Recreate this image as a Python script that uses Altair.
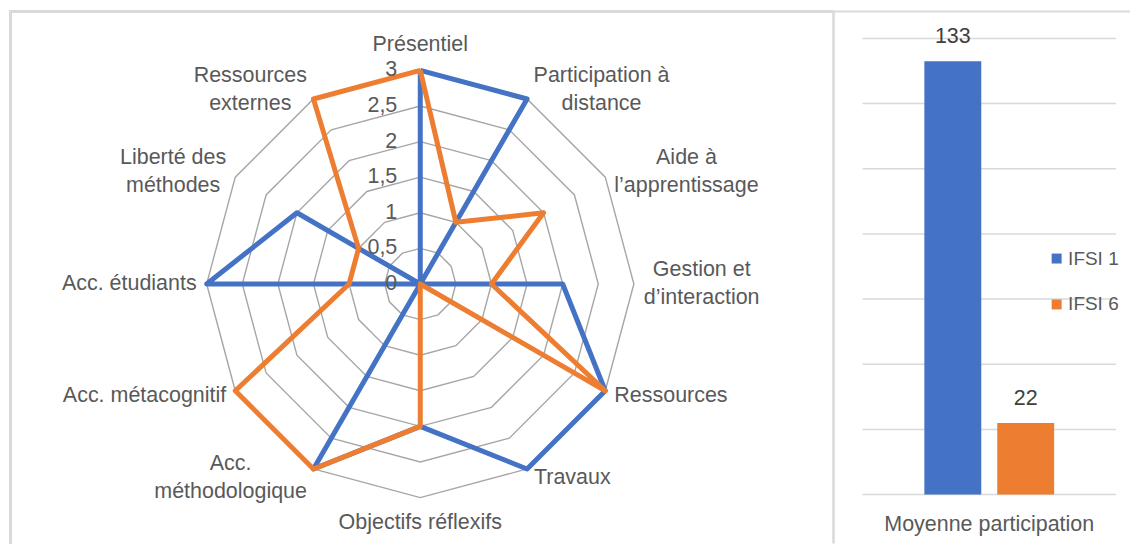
import math
import altair as alt
import pandas as pd

# ---------------- data ----------------
categories = [
    "Présentiel",
    "Participation à\ndistance",
    "Aide à\nl’apprentissage",
    "Gestion et\nd’interaction",
    "Ressources",
    "Travaux",
    "Objectifs réflexifs",
    "Acc.\nméthodologique",
    "Acc. métacognitif",
    "Acc. étudiants",
    "Liberté des\nméthodes",
    "Ressources\nexternes",
]
series_names = ["IFSI 1", "IFSI 6"]
ifsi1_scores = [3, 3, 0, 2, 3, 3, 2, 3, 0, 3, 2, 0]
ifsi6_scores = [3, 1, 2, 1, 3, 0, 2, 3, 3, 1, 1, 3]
radial_ticks = [0, 0.5, 1, 1.5, 2, 2.5, 3]

bar_category = "Moyenne participation"
participation = [133, 22]
bar_ticks = [0, 20, 40, 60, 80, 100, 120, 140]

# ---------------- style / geometry ----------------
FONT = "Liberation Sans"
TXT = "#595959"
COLORS = ["#4472C4", "#ED7D31"]
RING = "#A6A6A6"
BORDER = "#D9D9D9"
FS = 21.5
LH = 28

RW, H = 825, 534          # radar panel
BW = 298                  # bar panel
CX, CY, R = 412, 274, 214
VMAX = 3.0
UNIT = R / VMAX
n = len(categories)

# Arial-metric widths (per 1000 em) to centre multi-line labels
_W = {" ": 278, "'": 191, "’": 222, ".": 278, ",": 278, "A": 667, "G": 778,
      "L": 556, "O": 778, "P": 667, "R": 722, "T": 611, "I": 278, "F": 611,
      "S": 667, "M": 833, "a": 556, "à": 556, "b": 556, "c": 500, "d": 556,
      "e": 556, "é": 556, "f": 278, "g": 556, "h": 556, "i": 222, "j": 222,
      "k": 500, "l": 222, "m": 833, "n": 556, "o": 556, "p": 556, "q": 556,
      "r": 333, "s": 500, "t": 278, "u": 556, "v": 500, "x": 500, "y": 500}


def text_width(s, fs=FS):
    return sum(_W.get(ch, 556) for ch in s) * fs / 1000.0


# series polygons
rows = []
for name, vals in zip(series_names, [ifsi1_scores, ifsi6_scores]):
    for i in range(n + 1):
        k = i % n
        th = 2 * math.pi * k / n
        rows.append({"series": name, "order": i,
                     "x": vals[k] * math.sin(th), "y": vals[k] * math.cos(th)})
series_df = pd.DataFrame(rows)

# grid rings
ring_rows = []
for lv in radial_ticks[1:]:
    for i in range(n + 1):
        th = 2 * math.pi * (i % n) / n
        ring_rows.append({"ring": lv, "order": i,
                          "x": lv * math.sin(th), "y": lv * math.cos(th)})
ring_df = pd.DataFrame(ring_rows)

# category labels (anchor = first line; block centred around computed centre)
lab_rows = []
for k, lab in enumerate(categories):
    th = 2 * math.pi * k / n
    s, c = math.sin(th), math.cos(th)
    lines = lab.split("\n")
    hw = max(text_width(l) for l in lines) / 2
    hh = len(lines) * LH / 2
    vx, vy = R * s, R * c
    if abs(s) < 0.1:
        cx_, cy_ = vx, vy + math.copysign(11 + hh, c)
    else:
        gap = 3 + 7 * abs(s)
        cx_, cy_ = vx + math.copysign(gap + hw, s), vy + c * 10
    cy_ += (len(lines) - 1) * LH / 2
    lab_rows.append({"label": lab, "x": cx_ / UNIT, "y": cy_ / UNIT})
lab_df = pd.DataFrame(lab_rows)

tick_df = pd.DataFrame({
    "v": radial_ticks,
    "x": [-23 / UNIT] * len(radial_ticks),
    "t": [f"{t:g}".replace(".", ",") for t in radial_ticks],
})

xs = alt.Scale(domain=[-VMAX, VMAX], range=[CX - R, CX + R], nice=False, zero=False)
ys = alt.Scale(domain=[-VMAX, VMAX], range=[CY + R, CY - R], nice=False, zero=False)

rings = alt.Chart(ring_df).mark_line(color=RING, strokeWidth=1.4).encode(
    x=alt.X("x:Q", scale=xs, axis=None),
    y=alt.Y("y:Q", scale=ys, axis=None),
    detail="ring:N",
    order="order:Q",
)

lines = alt.Chart(series_df).mark_line(strokeWidth=5, strokeJoin="round").encode(
    x=alt.X("x:Q", scale=xs, axis=None),
    y=alt.Y("y:Q", scale=ys, axis=None),
    color=alt.Color("series:N", scale=alt.Scale(domain=series_names, range=COLORS), legend=None),
    order="order:Q",
)

cat_labels = alt.Chart(lab_df).mark_text(
    align="center", baseline="middle", lineBreak="\n", lineHeight=LH,
    fontSize=FS, color=TXT, font=FONT,
).encode(
    x=alt.X("x:Q", scale=xs, axis=None),
    y=alt.Y("y:Q", scale=ys, axis=None),
    text="label:N",
)

tick_labels = alt.Chart(tick_df).mark_text(
    align="right", baseline="middle", fontSize=FS, color=TXT, font=FONT,
).encode(
    x=alt.X("x:Q", scale=xs, axis=None),
    y=alt.Y("v:Q", scale=ys, axis=None),
    text="t:N",
)

left_border = alt.Chart(tick_df).mark_rule(color=BORDER, strokeWidth=2).encode(
    x=alt.value(1.5), y=alt.value(0), y2=alt.value(H))
top_border_l = alt.Chart(tick_df).mark_rule(color=BORDER, strokeWidth=2).encode(
    x=alt.value(0), x2=alt.value(RW), y=alt.value(1))

radar = alt.layer(rings, lines, cat_labels, tick_labels, left_border, top_border_l).properties(
    width=RW, height=H)

# ---------------- bar panel ----------------
bar_df = pd.DataFrame({"series": series_names, "value": participation})
grid_df = pd.DataFrame({"tick": bar_ticks})
cat_df = pd.DataFrame({"label": [bar_category]})

bx = alt.Scale(domain=series_names, range=[30, 284], paddingInner=0.219, paddingOuter=0.849)
by = alt.Scale(domain=[0, 140], range=[485, 28], nice=False)

grid = alt.Chart(grid_df).mark_rule(color=BORDER, strokeWidth=1.5).encode(
    y=alt.Y("tick:Q", scale=by, axis=None), x=alt.value(30), x2=alt.value(284))

bars = alt.Chart(bar_df).mark_bar().encode(
    x=alt.X("series:N", scale=bx, axis=None),
    y=alt.Y("value:Q", scale=by, axis=None),
    color=alt.Color("series:N", scale=alt.Scale(domain=series_names, range=COLORS),
                    legend=alt.Legend(title=None, orient="none", legendX=215, legendY=239,
                                      symbolType="square", symbolSize=100, symbolStrokeWidth=0,
                                      labelFontSize=19, labelColor=TXT, labelFont=FONT,
                                      labelOffset=2, rowPadding=26, padding=0)),
)

bar_labels = alt.Chart(bar_df).mark_text(
    baseline="alphabetic", dy=-18, fontSize=FS, color="#404040", font=FONT,
).encode(
    x=alt.X("series:N", scale=bx, axis=None),
    y=alt.Y("value:Q", scale=by, axis=None),
    text="value:Q",
)

cat_label = alt.Chart(cat_df).mark_text(
    baseline="middle", fontSize=FS, color=TXT, font=FONT,
).encode(x=alt.value(157), y=alt.value(515), text="label:N")

divider = alt.Chart(cat_df).mark_rule(color=BORDER, strokeWidth=2.5).encode(
    x=alt.value(1), y=alt.value(0), y2=alt.value(H))
top_border_r = alt.Chart(cat_df).mark_rule(color=BORDER, strokeWidth=2).encode(
    x=alt.value(0), x2=alt.value(BW), y=alt.value(1))

barpanel = alt.layer(grid, bars, bar_labels, cat_label, divider, top_border_r).properties(
    width=BW, height=H)

chart = alt.hconcat(radar, barpanel, spacing=0).resolve_scale(
    color="independent", x="independent", y="independent"
).resolve_legend(color="independent").properties(
    padding=0, bounds="flush"
).configure(font=FONT).configure_view(stroke=None)

chart.save("out.html", embed_options={"renderer": "svg", "actions": False})
